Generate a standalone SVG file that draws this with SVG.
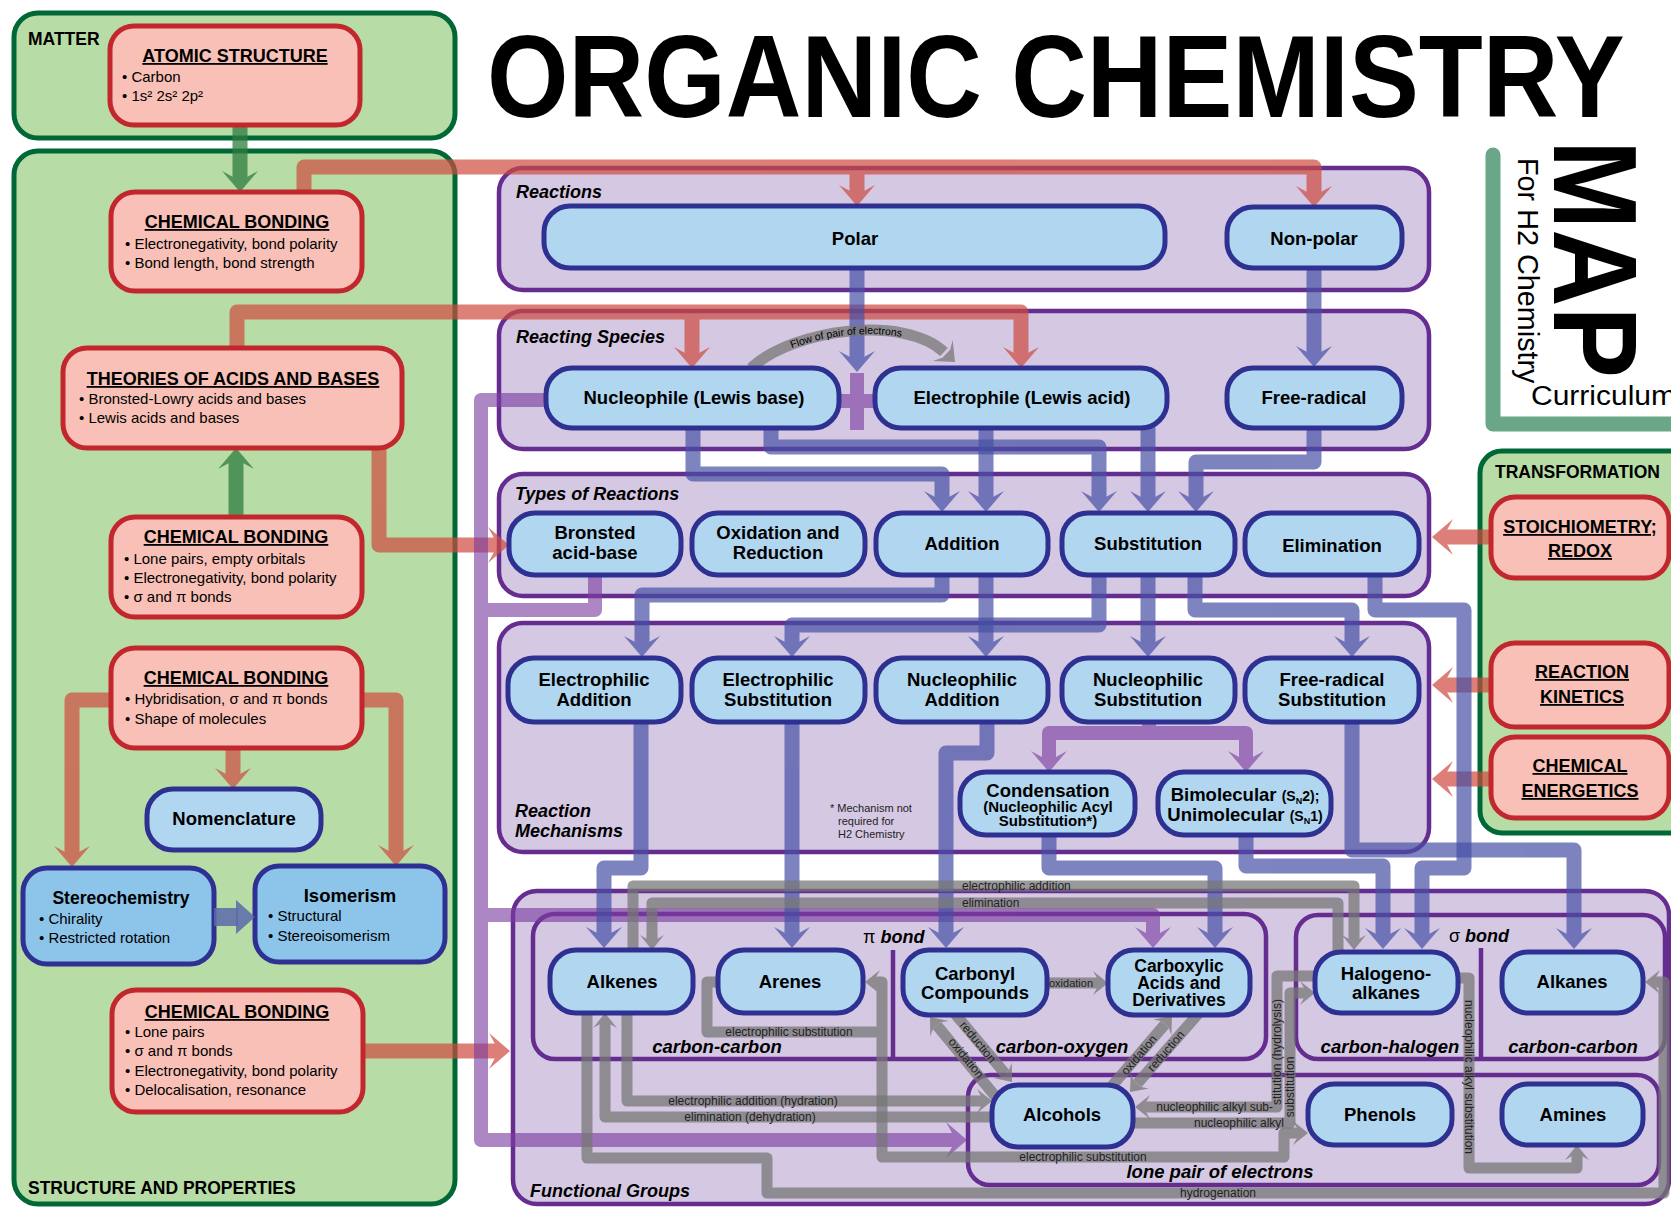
<svg xmlns="http://www.w3.org/2000/svg" width="1671" height="1208" viewBox="0 0 1671 1208">
<defs>
<style>
.grn{fill:#b8dca5;stroke:#006837;stroke-width:5}
.pur{fill:#d5c8e2;stroke:#662d91;stroke-width:4.5}
.pin{fill:none;stroke:#662d91;stroke-width:4.5}
.red{fill:#f8c0b6;stroke:#c1272d;stroke-width:5}
.blu{fill:#b0d6f0;stroke:#2e3192;stroke-width:5}
.blu2{fill:#8cc4ea;stroke:#2e3192;stroke-width:5}
text{font-family:"Liberation Sans",Arial,sans-serif;fill:#000}
.h{font-weight:bold;font-size:18px;text-anchor:middle;text-decoration:underline}
.b{font-size:15px}
.n{font-weight:bold;font-size:18.5px;text-anchor:middle}
.s15{font-size:15px}
.s17{font-size:17.5px}
.sec{font-weight:bold;font-size:17.5px}
.it{font-weight:bold;font-style:italic;font-size:18px}
.itc{font-weight:bold;font-style:italic;font-size:18.5px;text-anchor:middle}
.sm{font-size:12px;fill:#222}
.smc{font-size:12px;fill:#222;text-anchor:middle}
.note{font-size:11px;fill:#222}
.cr{opacity:.7;fill:#cf4a3f;stroke:#cf4a3f}
.cb{opacity:.7;fill:#4650a5;stroke:#4650a5}
.cp{opacity:.62;fill:#7a3ca0;stroke:#7a3ca0}
.cg{opacity:.75;fill:#2e7d40;stroke:#2e7d40}
.cy{opacity:.75;fill:#777;stroke:#777}
.cr path,.cg path,.cb path{fill:none;stroke-width:15;stroke-linejoin:round}
.cp path{fill:none;stroke-width:14;stroke-linejoin:round}
.cy path{fill:none;stroke-width:11;stroke-linejoin:round}
</style>
<path id="ah" d="M0,0 L-18,-21 L-7,-15 L7,-15 L18,-21 Z" stroke="none"/>
<path id="as" d="M0,0 L-12,-15 L-5,-11 L5,-11 L12,-15 Z" stroke="none"/>
<path id="arcT" d="M751,372 C795,332 905,319 944,356" fill="none" stroke="none"/>
</defs>
<rect width="1671" height="1208" fill="#fff"/>

<!-- Title -->
<text transform="translate(487,117) scale(0.896,1)" font-size="117" font-weight="bold">ORGANIC CHEMISTRY</text>
<path d="M1493,155 V424 H1680" fill="none" stroke="#6aa688" stroke-width="15" stroke-linecap="round" stroke-linejoin="round"/>
<text transform="translate(1554,140) rotate(90) scale(0.9,1)" font-size="119" font-weight="bold">MAP</text>
<text transform="translate(1518,158) rotate(90) scale(0.96,1)" font-size="30">For H2 Chemistry</text>
<text x="1531" y="405" font-size="27" textLength="145" lengthAdjust="spacingAndGlyphs">Curriculum</text>

<!-- Containers -->
<g id="matter"><rect class="grn" x="14" y="13" width="441" height="125" rx="24"/><text class="sec" x="28" y="45">MATTER</text></g>
<g id="structure"><rect class="grn" x="14" y="151" width="441" height="1053" rx="24"/><text class="sec" x="28" y="1194">STRUCTURE AND PROPERTIES</text></g>
<g id="transformation"><rect class="grn" x="1480" y="451" width="240" height="382" rx="22"/><text class="sec" x="1495" y="478">TRANSFORMATION</text></g>
<g id="reactions"><rect class="pur" x="499" y="168" width="930" height="122" rx="24"/><text class="it" x="516" y="198">Reactions</text></g>
<g id="reacting-species"><rect class="pur" x="499" y="311" width="930" height="138" rx="24"/><text class="it" x="516" y="343">Reacting Species</text></g>
<g id="types"><rect class="pur" x="499" y="474" width="930" height="122" rx="24"/><text class="it" x="515" y="500">Types of Reactions</text></g>
<g id="mechanisms"><rect class="pur" x="499" y="623" width="930" height="229" rx="24"/><text class="it" x="515" y="817">Reaction</text><text class="it" x="515" y="837">Mechanisms</text>
<text class="note" x="830" y="812">* Mechanism not</text><text class="note" x="838" y="825">required for</text><text class="note" x="838" y="838">H2 Chemistry</text></g>
<g id="functional">
<rect class="pur" x="513" y="891" width="1156" height="313" rx="24"/>
<rect class="pin" x="533" y="914" width="733" height="145" rx="22"/>
<rect class="pin" x="1296" y="915" width="369" height="144" rx="22"/>
<rect class="pin" x="968" y="1075" width="691" height="110" rx="22"/>
<path class="pin" d="M893,950 V1059 M1481,948 V1059"/>
<text class="it" x="530" y="1197">Functional Groups</text>
<text class="it" x="863" y="943"><tspan style="font-style:normal;font-weight:normal">π</tspan> bond</text>
<text class="it" x="1449" y="942"><tspan style="font-style:normal;font-weight:normal">σ</tspan> bond</text>
<text class="itc" x="717" y="1053">carbon-carbon</text>
<text class="itc" x="1062" y="1053">carbon-oxygen</text>
<text class="itc" x="1390" y="1053">carbon-halogen</text>
<text class="itc" x="1573" y="1053">carbon-carbon</text>
<text class="itc" x="1220" y="1178">lone pair of electrons</text>
</g>

<!-- Connectors -->
<g id="connectors">
<g class="cg"><path d="M240,118 V178"/><use href="#ah" transform="translate(240,192)"/></g>
<g class="cg"><path d="M236,522 V462"/><use href="#ah" transform="translate(236,448) rotate(180)"/></g>

<g class="cr"><path d="M304,200 V167 H1314 V192 M857,167 V192"/><use href="#ah" transform="translate(1314,207)"/><use href="#ah" transform="translate(857,206)"/></g>
<g class="cr"><path d="M237,356 V312 H1021 V354 M692,312 V354"/><use href="#ah" transform="translate(1021,368)"/><use href="#ah" transform="translate(692,368)"/></g>
<g class="cr"><path d="M379,440 V545 H495"/><use href="#ah" transform="translate(509,545) rotate(-90)"/></g>
<g class="cr"><path d="M115,700 H72 V853"/><use href="#ah" transform="translate(72,867)"/></g>
<g class="cr"><path d="M358,700 H396 V852"/><use href="#ah" transform="translate(396,866)"/></g>
<g class="cr"><path d="M233,745 V775"/><use href="#ah" transform="translate(233,789)"/></g>
<g class="cr"><path d="M360,1051 H496"/><use href="#ah" transform="translate(510,1051) rotate(-90)"/></g>
<g class="cr"><path d="M1495,537 H1446"/><use href="#ah" transform="translate(1432,537) rotate(90)"/></g>
<g class="cr"><path d="M1495,685 H1446"/><use href="#ah" transform="translate(1432,685) rotate(90)"/></g>
<g class="cr"><path d="M1495,779 H1446"/><use href="#ah" transform="translate(1432,779) rotate(90)"/></g>

<g class="cp"><path d="M552,400 H481 V1140 H953 M481,915 H1153 V934 M595,570 V610 H481 M857,373 V430 M828,401 H886"/><use href="#ah" transform="translate(967,1140) rotate(-90)"/><use href="#ah" transform="translate(1153,948)"/></g>
<g class="cp"><path d="M1149,716 V733 H1049 V758 M1149,733 H1246 V758"/><use href="#ah" transform="translate(1049,772)"/><use href="#ah" transform="translate(1246,772)"/></g>

<g class="cb"><path d="M857,262 V358"/><use href="#ah" transform="translate(857,372)"/></g>
<g class="cb"><path d="M1314,262 V353"/><use href="#ah" transform="translate(1314,367)"/></g>
<g class="cb"><path d="M693,422 V474 H942 V498"/><use href="#ah" transform="translate(942,512)"/></g>
<g class="cb"><path d="M771,422 V447 H1099 V498"/><use href="#ah" transform="translate(1099,512)"/></g>
<g class="cb"><path d="M986,422 V498"/><use href="#ah" transform="translate(986,512)"/></g>
<g class="cb"><path d="M1148,422 V498"/><use href="#ah" transform="translate(1148,512)"/></g>
<g class="cb"><path d="M1314,422 V462 H1196 V498"/><use href="#ah" transform="translate(1196,512)"/></g>
<g class="cb"><path d="M942,570 V595 H642 V643"/><use href="#ah" transform="translate(642,657)"/></g>
<g class="cb"><path d="M986,570 V643"/><use href="#ah" transform="translate(986,657)"/></g>
<g class="cb"><path d="M1099,570 V625 H792 V643"/><use href="#ah" transform="translate(792,657)"/></g>
<g class="cb"><path d="M1148,570 V643"/><use href="#ah" transform="translate(1148,657)"/></g>
<g class="cb"><path d="M1195,570 V610 H1352 V643"/><use href="#ah" transform="translate(1352,657)"/></g>
<g class="cb"><path d="M1375,570 V610 H1464 V868 H1422 V935"/><use href="#ah" transform="translate(1422,949)"/></g>
<g class="cb"><path d="M641,716 V868 H604 V934"/><use href="#ah" transform="translate(604,948)"/></g>
<g class="cb"><path d="M792,716 V934"/><use href="#ah" transform="translate(792,948)"/></g>
<g class="cb"><path d="M987,716 V753 H946 V934"/><use href="#ah" transform="translate(946,948)"/></g>
<g class="cb"><path d="M1049,830 V868 H1215 V934"/><use href="#ah" transform="translate(1215,948)"/></g>
<g class="cb"><path d="M1246,830 V866 H1383 V935"/><use href="#ah" transform="translate(1383,949)"/></g>
<g class="cb"><path d="M1352,716 V850 H1574 V935"/><use href="#ah" transform="translate(1574,949)"/></g>

<g class="cy"><path d="M751,368 C795,328 905,315 944,352" stroke-width="12"/><use href="#ah" transform="translate(955,362) rotate(-46.5) scale(0.8)"/></g>
<g class="cy"><path d="M633,958 V886 H1354 V939"/><use href="#as" transform="translate(1354,950)"/></g>
<g class="cy"><path d="M1338,958 V903 H652 V939"/><use href="#as" transform="translate(652,950)"/></g>
<g class="cy"><path d="M724,982 H707 V1032 H882 V982 H876 M882,1032 V1157 H1284 V1133 H1297"/><use href="#as" transform="translate(865,982) rotate(90)"/><use href="#as" transform="translate(1308,1133) rotate(-90)"/></g>
<g class="cy"><path d="M627,1005 V1101 H981"/><use href="#as" transform="translate(992,1101) rotate(-90)"/></g>
<g class="cy"><path d="M1000,1117 H605 V1024"/><use href="#as" transform="translate(605,1013) rotate(180)"/></g>
<g class="cy"><path d="M587,1005 V1158 H767 V1193 H1664 V982 H1656"/><use href="#as" transform="translate(1645,982) rotate(90)"/></g>
<g class="cy"><path d="M1040,983 H1097"/><use href="#as" transform="translate(1108,983) rotate(-90)"/></g>
<g class="cy"><path d="M951,1009 L1005,1073.5"/><use href="#as" transform="translate(1012,1082) rotate(-39.4)"/></g>
<g class="cy"><path d="M1000,1102 L937,1025.5"/><use href="#as" transform="translate(930,1017) rotate(140.6)"/></g>
<g class="cy"><path d="M1105,1094 L1164.9,1024.4"/><use href="#as" transform="translate(1172,1016) rotate(-139.5)"/></g>
<g class="cy"><path d="M1205,1006 L1137.2,1083.7"/><use href="#as" transform="translate(1130,1092) rotate(41.1)"/></g>
<g class="cy"><path d="M1322,976 H1277 V1107 H1146"/><use href="#as" transform="translate(1135,1107) rotate(90)"/></g>
<g class="cy"><path d="M1128,1123 H1290 V993 H1304"/><use href="#as" transform="translate(1315,993) rotate(-90)"/></g>
<g class="cy"><path d="M1452,978 H1469 V1168 H1577 V1156"/><use href="#as" transform="translate(1577,1145) rotate(180)"/></g>
</g>

<!-- Nodes -->
<g id="n-atomic"><rect class="red" x="110" y="26" width="250" height="99" rx="24"/><text class="h" x="235" y="62">ATOMIC STRUCTURE</text><text class="b" x="122" y="82">• Carbon</text><text class="b" x="122" y="101">• 1s² 2s² 2p²</text></g>
<g id="n-cb1"><rect class="red" x="111" y="192" width="251" height="99" rx="24"/><text class="h" x="237" y="228">CHEMICAL BONDING</text><text class="b" x="125" y="249">• Electronegativity, bond polarity</text><text class="b" x="125" y="268">• Bond length, bond strength</text></g>
<g id="n-theories"><rect class="red" x="63" y="348" width="339" height="100" rx="24"/><text class="h" x="233" y="385">THEORIES OF ACIDS AND BASES</text><text class="b" x="79" y="404">• Bronsted-Lowry acids and bases</text><text class="b" x="79" y="423">• Lewis acids and bases</text></g>
<g id="n-cb2"><rect class="red" x="111" y="517" width="251" height="100" rx="24"/><text class="h" x="236" y="543">CHEMICAL BONDING</text><text class="b" x="124" y="564">• Lone pairs, empty orbitals</text><text class="b" x="124" y="583">• Electronegativity, bond polarity</text><text class="b" x="124" y="602">• σ and π bonds</text></g>
<g id="n-cb3"><rect class="red" x="111" y="648" width="251" height="100" rx="24"/><text class="h" x="236" y="684">CHEMICAL BONDING</text><text class="b" x="125" y="704">• Hybridisation, σ and π bonds</text><text class="b" x="125" y="724">• Shape of molecules</text></g>
<g id="n-nomenclature"><rect class="blu" x="147" y="789" width="174" height="61" rx="26"/><text class="n" x="234" y="825">Nomenclature</text></g>
<g id="n-stereo"><rect class="blu2" x="23" y="868" width="191" height="96" rx="24"/><text class="n s17" x="121" y="904">Stereochemistry</text><text class="b" x="39" y="924">• Chirality</text><text class="b" x="39" y="943">• Restricted rotation</text></g>
<g id="n-isomerism"><rect class="blu2" x="255" y="866" width="190" height="96" rx="24"/><text class="n" x="350" y="902">Isomerism</text><text class="b" x="268" y="921">• Structural</text><text class="b" x="268" y="941">• Stereoisomerism</text></g>
<g id="n-stereo-iso-arrow"><path d="M214,917 H238" stroke="#5a6aa8" stroke-width="18" opacity="0.85" fill="none"/><path d="M255,917 L236,900 L236,934 Z" fill="#5a6aa8" opacity="0.85"/></g>
<g id="n-cb4"><rect class="red" x="112" y="990" width="251" height="122" rx="24"/><text class="h" x="237" y="1018">CHEMICAL BONDING</text><text class="b" x="125" y="1037">• Lone pairs</text><text class="b" x="125" y="1056">• σ and π bonds</text><text class="b" x="125" y="1076">• Electronegativity, bond polarity</text><text class="b" x="125" y="1095">• Delocalisation, resonance</text></g>

<g id="n-stoich"><rect class="red" x="1491" y="497" width="178" height="81" rx="24"/><text class="h" x="1580" y="533">STOICHIOMETRY;</text><text class="h" x="1580" y="557">REDOX</text></g>
<g id="n-kinetics"><rect class="red" x="1491" y="643" width="178" height="84" rx="24"/><text class="h" x="1582" y="678">REACTION</text><text class="h" x="1582" y="703">KINETICS</text></g>
<g id="n-energetics"><rect class="red" x="1491" y="737" width="178" height="81" rx="24"/><text class="h" x="1580" y="772">CHEMICAL</text><text class="h" x="1580" y="797">ENERGETICS</text></g>

<g id="n-polar"><rect class="blu" x="544" y="206" width="621" height="62" rx="26"/><text class="n" x="855" y="245">Polar</text></g>
<g id="n-nonpolar"><rect class="blu" x="1227" y="207" width="175" height="61" rx="26"/><text class="n" x="1314" y="245">Non-polar</text></g>
<g id="n-nucleophile"><rect class="blu" x="546" y="368" width="293" height="60" rx="26"/><text class="n" x="694" y="404">Nucleophile (Lewis base)</text></g>
<g id="n-electrophile"><rect class="blu" x="875" y="368" width="292" height="60" rx="26"/><text class="n" x="1022" y="404">Electrophile (Lewis acid)</text></g>
<g id="n-freeradical"><rect class="blu" x="1227" y="368" width="175" height="60" rx="26"/><text class="n" x="1314" y="404">Free-radical</text></g>

<g id="n-bronsted"><rect class="blu" x="509" y="513" width="172" height="62" rx="26"/><text class="n" x="595" y="539">Bronsted</text><text class="n" x="595" y="559">acid-base</text></g>
<g id="n-oxred"><rect class="blu" x="692" y="513" width="173" height="62" rx="26"/><text class="n" x="778" y="539">Oxidation and</text><text class="n" x="778" y="559">Reduction</text></g>
<g id="n-addition"><rect class="blu" x="876" y="513" width="172" height="62" rx="26"/><text class="n" x="962" y="550">Addition</text></g>
<g id="n-substitution"><rect class="blu" x="1062" y="513" width="173" height="62" rx="26"/><text class="n" x="1148" y="550">Substitution</text></g>
<g id="n-elimination"><rect class="blu" x="1245" y="513" width="174" height="62" rx="26"/><text class="n" x="1332" y="552">Elimination</text></g>

<g id="n-ea"><rect class="blu" x="508" y="658" width="173" height="64" rx="26"/><text class="n" x="594" y="686">Electrophilic</text><text class="n" x="594" y="706">Addition</text></g>
<g id="n-es"><rect class="blu" x="692" y="658" width="173" height="64" rx="26"/><text class="n" x="778" y="686">Electrophilic</text><text class="n" x="778" y="706">Substitution</text></g>
<g id="n-na"><rect class="blu" x="876" y="658" width="172" height="64" rx="26"/><text class="n" x="962" y="686">Nucleophilic</text><text class="n" x="962" y="706">Addition</text></g>
<g id="n-ns"><rect class="blu" x="1062" y="658" width="173" height="64" rx="26"/><text class="n" x="1148" y="686">Nucleophilic</text><text class="n" x="1148" y="706">Substitution</text></g>
<g id="n-frs"><rect class="blu" x="1245" y="658" width="174" height="64" rx="26"/><text class="n" x="1332" y="686">Free-radical</text><text class="n" x="1332" y="706">Substitution</text></g>
<g id="n-condensation"><rect class="blu" x="960" y="772" width="175" height="63" rx="26"/><text class="n" x="1048" y="797">Condensation</text><text class="n s15" x="1048" y="812">(Nucleophilic Acyl</text><text class="n s15" x="1048" y="826">Substitution*)</text></g>
<g id="n-bimolecular"><rect class="blu" x="1158" y="772" width="173" height="63" rx="26"/><text class="n" x="1245" y="801">Bimolecular <tspan font-size="14">(S<tspan font-size="9" dy="3">N</tspan><tspan dy="-3">2);</tspan></tspan></text><text class="n" x="1245" y="821">Unimolecular <tspan font-size="14">(S<tspan font-size="9" dy="3">N</tspan><tspan dy="-3">1)</tspan></tspan></text></g>

<g id="n-alkenes"><rect class="blu" x="550" y="950" width="143" height="63" rx="26"/><text class="n" x="622" y="988">Alkenes</text></g>
<g id="n-arenes"><rect class="blu" x="718" y="950" width="145" height="63" rx="26"/><text class="n" x="790" y="988">Arenes</text></g>
<g id="n-carbonyl"><rect class="blu" x="903" y="950" width="144" height="65" rx="26"/><text class="n" x="975" y="980">Carbonyl</text><text class="n" x="975" y="999">Compounds</text></g>
<g id="n-carboxylic"><rect class="blu" x="1108" y="950" width="142" height="65" rx="26"/><text class="n" x="1179" y="972" style="font-size:17.5px"><tspan x="1179" y="972">Carboxylic</tspan><tspan x="1179" y="989">Acids and</tspan><tspan x="1179" y="1006">Derivatives</tspan></text></g>
<g id="n-halogeno"><rect class="blu" x="1315" y="952" width="143" height="61" rx="26"/><text class="n" x="1386" y="980">Halogeno-</text><text class="n" x="1386" y="999">alkanes</text></g>
<g id="n-alkanes"><rect class="blu" x="1502" y="952" width="141" height="61" rx="26"/><text class="n" x="1572" y="988">Alkanes</text></g>
<g id="n-alcohols"><rect class="blu" x="992" y="1085" width="141" height="62" rx="26"/><text class="n" x="1062" y="1121">Alcohols</text></g>
<g id="n-phenols"><rect class="blu" x="1308" y="1084" width="144" height="61" rx="26"/><text class="n" x="1380" y="1121">Phenols</text></g>
<g id="n-amines"><rect class="blu" x="1502" y="1084" width="141" height="61" rx="26"/><text class="n" x="1573" y="1121">Amines</text></g>

<!-- Connector labels -->
<g id="connector-labels">
<text font-size="10.5" fill="#222"><textPath href="#arcT" startOffset="50%" text-anchor="middle">Flow of pair of electrons</textPath></text>
<text class="sm" x="962" y="890">electrophilic addition</text>
<text class="sm" x="962" y="907">elimination</text>
<text class="smc" x="789" y="1036">electrophilic substitution</text>
<text class="smc" x="1083" y="1161">electrophilic substitution</text>
<text class="smc" x="753" y="1105">electrophilic addition (hydration)</text>
<text class="smc" x="750" y="1121">elimination (dehydration)</text>
<text class="smc" x="1218" y="1197">hydrogenation</text>
<text class="note" x="1049" y="987">oxidation</text>
<text class="smc" transform="translate(978,1042) rotate(50.6)" y="4">reduction</text>
<text class="smc" transform="translate(966,1058) rotate(50.6)" y="4">oxidation</text>
<text class="smc" transform="translate(1139,1055) rotate(-49.5)" y="4">oxidation</text>
<text class="smc" transform="translate(1166,1051) rotate(-48.9)" y="4">reduction</text>
<text class="sm" x="1273" y="1111" text-anchor="end">nucleophilic alkyl sub-</text>
<text class="sm" x="1284" y="1127" text-anchor="end">nucleophilic alkyl</text>
<text class="smc" transform="translate(1277,1052) rotate(-90)" y="4">stitution (hydrolysis)</text>
<text class="smc" transform="translate(1290,1087) rotate(-90)" y="4">substitution</text>
<text class="smc" transform="translate(1469,1077) rotate(90)" y="4">nucleophilic alkyl substitution</text>
</g>
</svg>
